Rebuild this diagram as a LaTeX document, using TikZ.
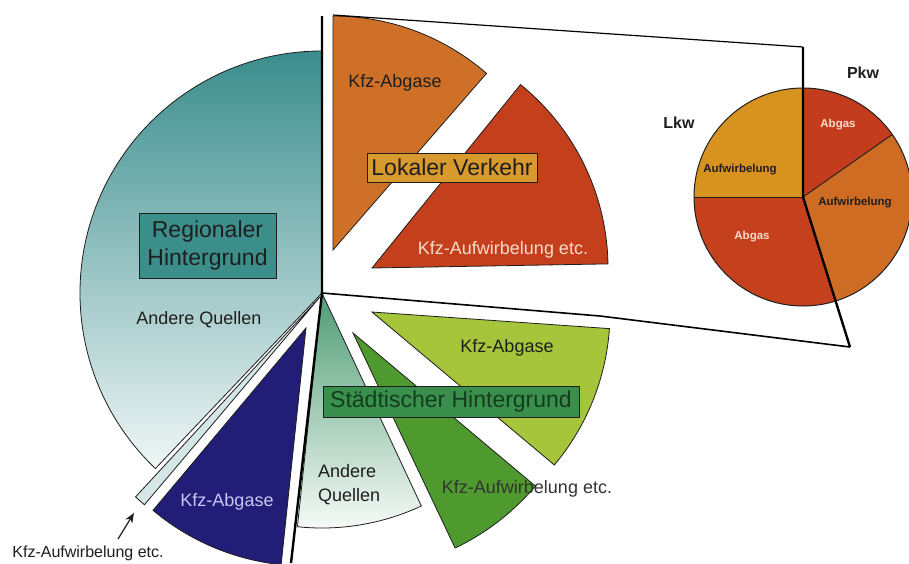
\documentclass[tikz,border=0pt]{standalone}
\usepackage{fontspec}
\setmainfont{Liberation Sans}
\usetikzlibrary{arrows.meta}
\definecolor{tealD}{HTML}{3A8D8C}
\definecolor{tealM}{HTML}{9CC8C7}
\definecolor{tealL}{HTML}{F0F6F6}
\definecolor{tealBox}{HTML}{3C8E8B}
\definecolor{stripC}{HTML}{D4E6E6}
\definecolor{navy}{HTML}{221E78}
\definecolor{navyTxt}{HTML}{C9C6F2}
\definecolor{grD}{HTML}{4F9C74}
\definecolor{grM}{HTML}{B9D8C6}
\definecolor{grL}{HTML}{F8FBF9}
\definecolor{grMed}{HTML}{4E9A2E}
\definecolor{grLight}{HTML}{A6C53A}
\definecolor{grBox}{HTML}{3A8F4C}
\definecolor{grTxt}{HTML}{133D1F}
\definecolor{orA}{HTML}{CF7028}
\definecolor{redA}{HTML}{C43F1C}
\definecolor{redTxt}{HTML}{F6DCCB}
\definecolor{lokBox}{HTML}{D89A2E}
\definecolor{lkwAuf}{HTML}{D8921F}
\definecolor{lkwAbg}{HTML}{C5401D}
\definecolor{pkwAbg}{HTML}{C33C1E}
\definecolor{pkwAuf}{HTML}{CF6C24}
\definecolor{dk}{HTML}{1E1E1E}
\begin{document}
\begin{tikzpicture}[x=1pt,y=1pt,
  sector/.style={draw=dk, line width=0.8pt},
  divider/.style={draw=black, line width=2.4pt},
  frameline/.style={draw=black, line width=1.6pt},
  lbl/.style={inner sep=0pt, font=\fontsize{18}{21}\selectfont},
  boxlbl/.style={draw=dk, line width=0.8pt, inner sep=0pt, align=center, font=\fontsize{23}{28}\selectfont},
  pielbl/.style={inner sep=0pt, font=\bfseries\fontsize{11.5}{13}\selectfont},
  ttl/.style={inner sep=0pt, font=\bfseries\fontsize{16}{18}\selectfont}]
\useasboundingbox (0,0) rectangle (909,-563);
\fill[white] (0,0) rectangle (909,-563);

% ---- Regionaler Hintergrund ----
\coordinate (cR) at (322,-293);
\shadedraw[sector, top color=tealD, middle color=tealM, bottom color=tealL]
  (cR) -- ++(90:242) arc[start angle=90, end angle=226.5, radius=242] -- cycle;
\coordinate (cS) at (320,-297);
\filldraw[sector, fill=stripC]
  (cS) -- ++(227.3:272) arc[start angle=227.3, end angle=229.8, radius=272] -- cycle;
\coordinate (cB) at (306,-328);
\filldraw[sector, fill=navy]
  (cB) -- ++(230:238) arc[start angle=230, end angle=264, radius=238] -- cycle;

% ---- Staedtischer Hintergrund ----
\coordinate (cG) at (322,-293);
\shadedraw[sector, top color=grD, middle color=grM, bottom color=grL]
  (cG) -- ++(264:235) arc[start angle=264, end angle=295, radius=235] -- cycle;
\coordinate (cGM) at (353,-333);
\filldraw[sector, fill=grMed]
  (cGM) -- ++(-64.6:238) arc[start angle=-64.6, end angle=-40, radius=238] -- cycle;
\coordinate (cGL) at (372,-312);
\filldraw[sector, fill=grLight]
  (cGL) -- ++(-40:238) arc[start angle=-40, end angle=-4, radius=238] -- cycle;

% ---- Lokaler Verkehr ----
\coordinate (cO) at (333,-250);
\filldraw[sector, fill=orA]
  (cO) -- ++(49:234) arc[start angle=49, end angle=90, radius=234] -- cycle;
\coordinate (cRd) at (372,-268);
\filldraw[sector, fill=redA]
  (cRd) -- ++(1:236) arc[start angle=1, end angle=51, radius=236] -- cycle;

% ---- frame lines ----
\coordinate (vTop) at (322,-16);
\coordinate (vBot) at (291,-563);
\coordinate (fTopL) at (333,-15);
\coordinate (fTopR) at (803,-47);
\coordinate (fMid) at (600,-316);
\coordinate (fBotR) at (850,-347);
\coordinate (pc) at (803,-197);

% ---- small pie ----
\fill[lkwAuf] (pc) -- ++(90:109) arc[start angle=90, end angle=180, radius=109] -- cycle;
\fill[lkwAbg] (pc) -- ++(180:109) arc[start angle=180, end angle=287.4, radius=109] -- cycle;
\fill[pkwAbg] (pc) -- ++(35:109) arc[start angle=35, end angle=90, radius=109] -- cycle;
\fill[pkwAuf] (pc) -- ++(-72.6:109) arc[start angle=-72.6, end angle=35, radius=109] -- cycle;
\draw[dk, line width=1pt] (pc) circle[radius=109];
\draw[dk, line width=0.9pt] (pc) -- ++(180:109);
\draw[dk, line width=0.9pt] (pc) -- ++(35:109);

\draw[divider] (vTop) -- (cR) -- (vBot);
\draw[frameline] (cR) -- (fMid) -- (fBotR);
\draw[draw=black, line width=1.2pt] (fTopL) -- (fTopR);
\draw[divider] (fTopR) -- (pc) -- (fBotR);

% ---- boxes ----
\node[boxlbl, fill=tealBox, text=dk, minimum width=137, minimum height=65] (regBox) at (207.5,-245.5) {Regionaler\\Hintergrund};
\node[boxlbl, fill=lokBox, text=dk, minimum width=170, minimum height=29] (lokBox) at (452,-167.5) {Lokaler Verkehr};
\node[boxlbl, fill=grBox, text=grTxt, minimum width=256, minimum height=31] (staBox) at (451,-401.5) {Städtischer Hintergrund};

% ---- labels ----
\node[lbl, text=dk] (regAnd) at (199,-320) {Andere Quellen};
\node[lbl, text=navyTxt] (navyLbl) at (227,-502) {Kfz-Abgase};
\node[lbl, text=dk] (orLbl) at (395,-83) {Kfz-Abgase};
\node[lbl, text=redTxt] (redLbl) at (503,-250) {Kfz-Aufwirbelung etc.};
\node[lbl, text=dk] (grLLbl) at (507,-348) {Kfz-Abgase};
\node[lbl, text=black!80] (grMLbl) at (527,-489) {Kfz-Aufwirbelung etc.};
\node[lbl, text=dk, align=left, anchor=west, font=\fontsize{18}{24}\selectfont] (grAnd) at (318,-485) {Andere\\Quellen};
\node[inner sep=0pt, text=dk, font=\fontsize{16}{18}\selectfont] (stripLbl) at (88,-553) {Kfz-Aufwirbelung etc.};
\coordinate (arS) at (118,-539);
\coordinate (arE) at (134,-513);
\draw[dk, line width=1.2pt, -{Stealth[length=10pt, width=8pt]}] (arS) -- (arE);

\node[ttl, text=dk] (pkw) at (863,-73) {Pkw};
\node[ttl, text=dk] (lkw) at (679,-123) {Lkw};
\node[pielbl, text=redTxt] (pAbg) at (838,-125) {Abgas};
\node[pielbl, text=dk] (pAuf) at (855,-203) {Aufwirbelung};
\node[pielbl, text=dk] (lAuf) at (740,-170) {Aufwirbelung};
\node[pielbl, text=redTxt] (lAbg) at (752,-237) {Abgas};
\end{tikzpicture}
\end{document}
